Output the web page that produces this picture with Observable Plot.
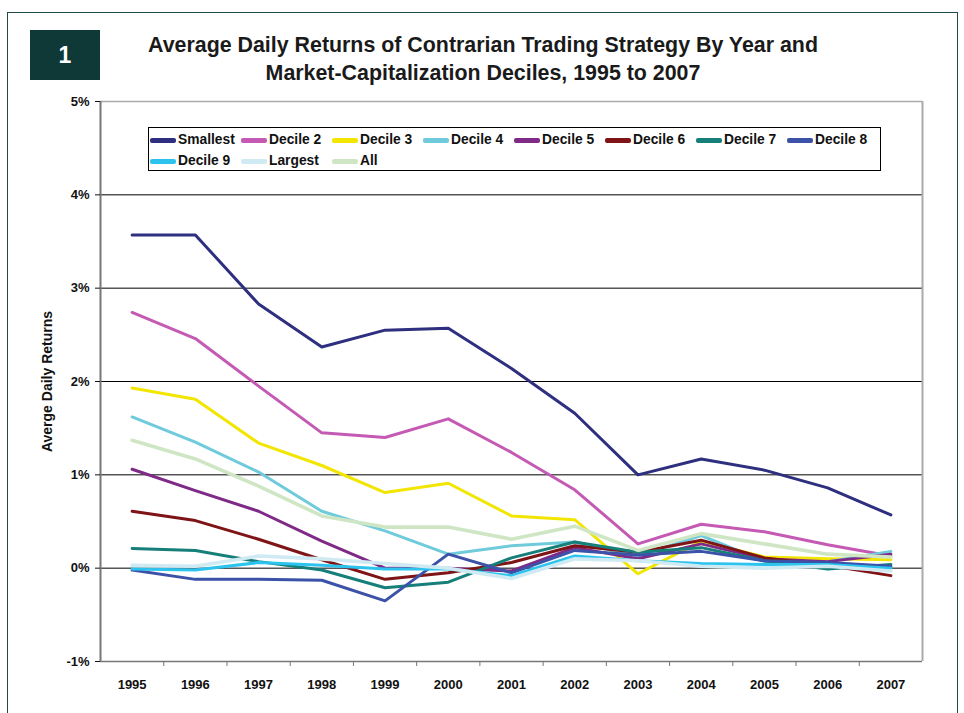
<!DOCTYPE html>
<html><head><meta charset="utf-8">
<script src="https://cdn.jsdelivr.net/npm/d3@7"></script>
<script src="https://cdn.jsdelivr.net/npm/@observablehq/plot@0.6"></script>
<style>
body{margin:0;background:#fff;font-family:"Liberation Sans",Arial,sans-serif;}
#wrap{position:relative;width:964px;height:713px;overflow:hidden;}
#frame{position:absolute;left:7px;top:12px;width:949px;height:720px;border:1.5px solid #1f4a45;}
#badge{position:absolute;left:30px;top:30px;width:70px;height:50px;background:#0e3936;color:#fff;font-weight:bold;font-size:23px;display:flex;align-items:center;justify-content:center;}
#title{position:absolute;left:100px;width:766px;top:31px;text-align:center;font-weight:bold;font-size:22.5px;line-height:28px;color:#1a1a1a;transform:scaleX(0.95);transform-origin:50% 0;}
#chart{position:absolute;left:0;top:90px;}
#legend{position:absolute;left:148px;top:127px;width:733px;height:44px;border:1px solid #000;background:#fff;box-sizing:border-box;}
.item{position:absolute;font-weight:bold;font-size:13.8px;color:#111;white-space:nowrap;line-height:15px;}
.sw{position:absolute;width:26px;height:4.5px;border-radius:2px;}
</style></head>
<body><div id="wrap">
<div id="frame"></div>
<div id="badge">1</div>
<div id="title">Average Daily Returns of Contrarian Trading Strategy By Year and<br>Market-Capitalization Deciles, 1995 to 2007</div>
<div id="chart"></div>
<div id="legend"></div>
</div>
<script>
const years = [1995,1996,1997,1998,1999,2000,2001,2002,2003,2004,2005,2006,2007];
const seriesNames = ["Smallest","Decile 2","Decile 3","Decile 4","Decile 5","Decile 6","Decile 7","Decile 8","Decile 9","Largest","All"];
const seriesColors = ["#2e2f7e","#c45ab3","#f2e600","#6fcbdc","#7e2a86","#7f1416","#167f7a","#3b52a8","#2cc4ee","#cfeaf3","#cfe6c5"];
const smallest = [3.57,3.57,2.83,2.37,2.55,2.57,2.14,1.66,1.00,1.17,1.05,0.86,0.57];
const decile2  = [2.74,2.46,1.95,1.45,1.40,1.60,1.24,0.84,0.26,0.47,0.39,0.25,0.13];
const decile3  = [1.93,1.81,1.34,1.10,0.81,0.91,0.56,0.52,-0.06,0.29,0.12,0.10,0.09];
const decile4  = [1.62,1.35,1.03,0.61,0.40,0.15,0.24,0.28,0.13,0.35,0.07,0.07,0.18];
const decile5  = [1.06,0.83,0.61,0.29,0.00,0.00,-0.03,0.22,0.10,0.26,0.10,0.07,0.15];
const decile6  = [0.61,0.51,0.31,0.09,-0.12,-0.05,0.06,0.24,0.17,0.30,0.11,0.03,-0.08];
const decile7  = [0.21,0.19,0.07,-0.02,-0.21,-0.15,0.11,0.28,0.17,0.22,0.08,-0.01,0.04];
const decile8  = [-0.02,-0.12,-0.12,-0.13,-0.35,0.15,-0.05,0.19,0.14,0.18,0.08,0.06,0.02];
const decile9  = [-0.01,-0.02,0.06,0.03,-0.01,-0.01,-0.08,0.13,0.08,0.05,0.04,0.04,0.00];
const largest  = [0.03,0.02,0.13,0.10,0.05,0.00,-0.11,0.10,0.08,0.02,0.00,0.02,-0.03];
const allStocks= [1.37,1.17,0.88,0.56,0.44,0.44,0.31,0.45,0.19,0.37,0.26,0.15,0.12];
const seriesValues = [smallest,decile2,decile3,decile4,decile5,decile6,decile7,decile8,decile9,largest,allStocks];
const yTicks = [-1,0,1,2,3,4,5];
const yLabel = "Averge Daily Returns";

const bounds = years.slice(0,-1).map(y => y + 0.5);
const lineMarks = seriesValues.map((vals,i) => Plot.lineY(vals, {
  x: years, stroke: seriesColors[i],
  strokeWidth: (seriesNames[i]==="Largest"||seriesNames[i]==="All") ? 3.6 : 3
}));

const chart = Plot.plot({
  width: 964, height: 623,
  marginLeft: 100, marginRight: 42, marginTop: 11, marginBottom: 52,
  style: {fontFamily: '"Liberation Sans", Arial, sans-serif', fontSize: "13px", fontWeight: "bold", color: "#111", background: "transparent"},
  x: {type: "linear", domain: [years[0]-0.5, years[years.length-1]+0.5]},
  y: {domain: [yTicks[0], yTicks[yTicks.length-1]]},
  marks: [
    Plot.ruleY([yTicks[yTicks.length-1]], {stroke: "#aaa", strokeWidth: 1.5}),
    Plot.ruleY(yTicks.slice(1,-1), {stroke: "#000", strokeWidth: 1}),
    Plot.ruleY([yTicks[0]], {stroke: "#777", strokeWidth: 1.5}),
    Plot.ruleX([years[0]-0.5], {stroke: "#777", strokeWidth: 2}),
    Plot.ruleX([years[years.length-1]+0.5], {stroke: "#aaa", strokeWidth: 2}),
    Plot.axisY({ticks: yTicks, tickSize: 5, tickPadding: 6, tickFormat: d => d + "%", label: null, fontSize: 13}),
    Plot.text([yLabel], {frameAnchor: "left", textAnchor: "middle", rotate: -90, dx: -53, fontSize: 14, fontWeight: "bold", fill: "#111"}),
    Plot.axisX({ticks: bounds, tickSize: 5, tickFormat: () => "", stroke: "#777", label: null}),
    Plot.axisX({ticks: years, tickSize: 0, tickPadding: 18, tickFormat: d => String(d), label: null, fontSize: 13}),
    ...lineMarks
  ]
});
document.getElementById("chart").appendChild(chart);

const legend = document.getElementById("legend");
seriesNames.forEach((n,i) => {
  const col = i < 8 ? i : i - 8;
  const row = i < 8 ? 0 : 1;
  const left = 29 + 91*col;
  const top = 4 + 21*row;
  const sw = document.createElement("div");
  sw.className = "sw"; sw.style.background = seriesColors[i];
  sw.style.left = (left - 28) + "px"; sw.style.top = (top + 6) + "px";
  legend.appendChild(sw);
  const t = document.createElement("div");
  t.className = "item"; t.textContent = n;
  t.style.left = left + "px"; t.style.top = top + "px";
  legend.appendChild(t);
});
</script>
</body></html>
